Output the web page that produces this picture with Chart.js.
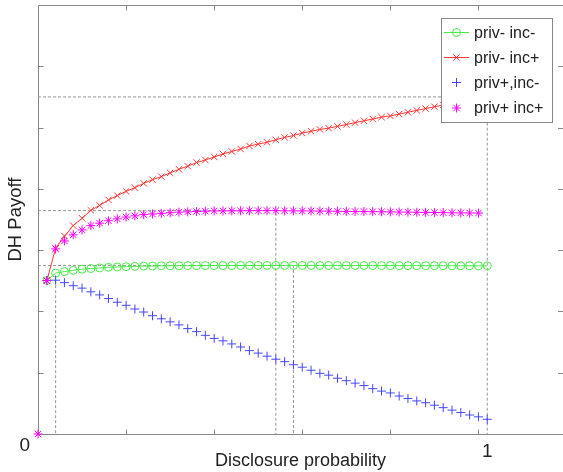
<!DOCTYPE html>
<html>
<head>
<meta charset="utf-8">
<script src="https://cdn.jsdelivr.net/npm/chart.js@4/dist/chart.umd.min.js"></script>
<style>
html,body{margin:0;padding:0;background:#fff;}
#wrap{position:relative;width:563px;height:472px;}
</style>
</head>
<body>
<div id="wrap"><canvas id="c" width="563" height="472"></canvas></div>
<script>
// ---- data ----
const disclosure = [1,2,3,4,5,6,7,8,9,10,11,12,13,14,15,16,17,18,19,20,21,22,23,24,25,26,27,28,29,30,31,32,33,34,35,36,37,38,39,40,41,42,43,44,45,46,47,48,49,50,51];
const privMinusIncMinus = [2.505,2.625,2.65,2.67,2.69,2.70,2.71,2.72,2.725,2.73,2.735,2.74,2.74,2.745,2.745,2.745,2.747,2.747,2.748,2.748,2.749,2.749,2.75,2.75,2.75,2.75,2.75,2.75,2.751,2.75,2.75,2.75,2.75,2.75,2.749,2.749,2.749,2.748,2.748,2.748,2.747,2.747,2.747,2.746,2.746,2.746,2.745,2.745,2.745,2.744,2.744];
const privMinusIncPlus = [2.50,3.03,3.23,3.40,3.52,3.65,3.73,3.82,3.89,3.96,4.02,4.09,4.15,4.20,4.26,4.32,4.37,4.43,4.47,4.52,4.57,4.61,4.65,4.70,4.73,4.76,4.80,4.84,4.87,4.91,4.94,4.97,4.99,5.02,5.05,5.08,5.11,5.14,5.17,5.19,5.22,5.25,5.28,5.31,5.34,5.37,5.39,5.42,5.45,5.47,5.50];
const privPlusIncMinus = [2.505,2.51,2.47,2.42,2.38,2.32,2.27,2.21,2.15,2.10,2.04,1.99,1.93,1.88,1.83,1.78,1.72,1.67,1.61,1.56,1.52,1.47,1.42,1.36,1.32,1.27,1.22,1.18,1.13,1.09,1.04,0.99,0.96,0.91,0.87,0.83,0.79,0.74,0.70,0.67,0.62,0.58,0.54,0.51,0.47,0.43,0.39,0.35,0.31,0.28,0.24];
const privPlusIncPlusX = [0,1,2,3,4,5,6,7,8,9,10,11,12,13,14,15,16,17,18,19,20,21,22,23,24,25,26,27,28,29,30,31,32,33,34,35,36,37,38,39,40,41,42,43,44,45,46,47,48,49,50,51];
const privPlusIncPlus = [0,2.505,3.02,3.15,3.25,3.33,3.40,3.44,3.48,3.51,3.54,3.56,3.58,3.59,3.60,3.61,3.62,3.625,3.63,3.635,3.64,3.64,3.642,3.643,3.644,3.645,3.645,3.645,3.642,3.64,3.64,3.64,3.638,3.636,3.634,3.632,3.63,3.63,3.628,3.626,3.624,3.622,3.62,3.618,3.616,3.614,3.612,3.61,3.608,3.606,3.605];
// reference (maximum) guide lines, data units
const guideRed = [[0,5.50],[51,5.50],[51,0]];
const guideMagenta = [[0,3.645],[27,3.645],[27,0]];
const guideGreen = [[0,2.75],[29,2.75],[29,0]];
const guideBlue = [[2,2.51],[2,0]];
// axis ticks and labels
const xMarkTicks = [10,20,30,40,50];
const yMarkTicks = [1,2,3,4,5,6];
const xLabelTicks = [51];
const xLabelTexts = ['1'];
const yLabelTicks = [0];
const yLabelTexts = ['0'];
const seriesNames = ['priv- inc-','priv- inc+','priv+,inc-','priv+ inc+'];

// ---- styling ----
const GREEN = 'rgb(70,235,70)';
const RED = 'rgb(255,55,55)';
const BLUE = 'rgb(70,70,255)';
const MAGENTA = 'rgb(255,0,255)';
const GUIDE = 'rgb(150,150,150)';
const AXIS = 'rgb(135,135,135)';
const TEXT = '#222';
const FONT = "'Liberation Sans', Arial, sans-serif";

const pts = (xs, ys) => xs.map((x, i) => ({x, y: ys[i]}));
const gpts = arr => arr.map(p => ({x: p[0], y: p[1]}));

const guideDs = (arr) => ({
  data: gpts(arr), showLine: true, borderColor: GUIDE, borderWidth: 1,
  borderDash: [3, 2], pointRadius: 0, fill: false, order: 10, tension: 0
});

const legendStyles = [
  {color: GREEN, style: 'circle', line: true, r: 4},
  {color: RED, style: 'crossRot', line: true, r: 4.5},
  {color: BLUE, style: 'cross', line: false, r: 4.5},
  {color: MAGENTA, style: 'star', line: false, r: 4.5}
];

function marker(ctx, style, r, cx, cy) {
  ctx.beginPath();
  if (style === 'circle') {
    ctx.arc(cx, cy, r, 0, Math.PI * 2);
  } else {
    const d = r * Math.SQRT1_2;
    if (style === 'cross' || style === 'star') {
      ctx.moveTo(cx - r, cy); ctx.lineTo(cx + r, cy);
      ctx.moveTo(cx, cy - r); ctx.lineTo(cx, cy + r);
    }
    if (style === 'crossRot' || style === 'star') {
      ctx.moveTo(cx - d, cy - d); ctx.lineTo(cx + d, cy + d);
      ctx.moveTo(cx - d, cy + d); ctx.lineTo(cx + d, cy - d);
    }
  }
  ctx.stroke();
}

const framePlugin = {
  id: 'frame',
  beforeDatasetsDraw(chart) {
    const {ctx, chartArea: a, scales: {x, y}} = chart;
    ctx.save();
    ctx.strokeStyle = AXIS;
    ctx.lineWidth = 1;
    const L = Math.round(a.left) + 0.5, B = Math.round(a.bottom) + 0.5, T = Math.round(a.top) + 0.5, R = a.right;
    ctx.beginPath();
    ctx.moveTo(R, T); ctx.lineTo(L, T); ctx.lineTo(L, B); ctx.lineTo(R, B);
    xMarkTicks.forEach(v => {
      const px = Math.round(x.getPixelForValue(v)) + 0.5;
      ctx.moveTo(px, B); ctx.lineTo(px, B - 5);
      ctx.moveTo(px, T); ctx.lineTo(px, T + 5);
    });
    yMarkTicks.forEach(v => {
      const py = Math.round(y.getPixelForValue(v)) + 0.5;
      ctx.moveTo(L, py); ctx.lineTo(L + 5, py);
      ctx.moveTo(R, py); ctx.lineTo(R - 5, py);
    });
    ctx.stroke();
    ctx.restore();
  }
};

const legendPlugin = {
  id: 'boxLegend',
  afterDraw(chart) {
    const ctx = chart.ctx;
    const bx = 441.5, by = 18.5, bw = 111, bh = 104;
    ctx.save();
    ctx.setLineDash([]);
    ctx.fillStyle = '#fff';
    ctx.fillRect(bx, by, bw, bh);
    ctx.strokeStyle = AXIS;
    ctx.lineWidth = 1;
    ctx.strokeRect(bx, by, bw, bh);
    const rows = [32.5, 57.5, 82.5, 108];
    ctx.font = '16px ' + FONT;
    ctx.textBaseline = 'middle';
    ctx.textAlign = 'left';
    seriesNames.forEach((name, i) => {
      const s = legendStyles[i];
      const yy = rows[i];
      ctx.strokeStyle = s.color;
      ctx.lineWidth = 1;
      if (s.line) {
        ctx.beginPath(); ctx.moveTo(444, yy); ctx.lineTo(469, yy); ctx.stroke();
      }
      marker(ctx, s.style, s.r, 456.5, yy);
      ctx.fillStyle = TEXT;
      ctx.fillText(name, 474, yy + 1);
    });
    ctx.restore();
  }
};

const zeroPad = s => { s.paddingTop = 0; s.paddingBottom = 0; s.paddingLeft = 0; s.paddingRight = 0; };

new Chart(document.getElementById('c'), {
  type: 'scatter',
  data: {
    datasets: [
      guideDs(guideRed), guideDs(guideMagenta), guideDs(guideGreen), guideDs(guideBlue),
      {label: seriesNames[0], data: pts(disclosure, privMinusIncMinus), showLine: true, borderColor: GREEN, borderWidth: 1,
       pointStyle: 'circle', pointRadius: 4, pointBorderColor: GREEN, pointBackgroundColor: 'rgba(0,0,0,0)', pointBorderWidth: 1, order: 4},
      {label: seriesNames[1], data: pts(disclosure, privMinusIncPlus), showLine: true, borderColor: RED, borderWidth: 1,
       pointStyle: 'crossRot', pointRadius: 4.5, pointBorderColor: RED, pointBorderWidth: 1, order: 3},
      {label: seriesNames[2], data: pts(disclosure, privPlusIncMinus), showLine: false,
       pointStyle: 'cross', pointRadius: 4.5, pointBorderColor: BLUE, pointBorderWidth: 1, order: 2},
      {label: seriesNames[3], data: pts(privPlusIncPlusX, privPlusIncPlus), showLine: false,
       pointStyle: 'star', pointRadius: 4.5, pointBorderColor: MAGENTA, pointBorderWidth: 1, order: 1}
    ]
  },
  options: {
    responsive: false,
    animation: false,
    clip: false,
    layout: {autoPadding: false, padding: {top: 5, right: 0, left: 0, bottom: 0}},
    plugins: {legend: {display: false}, tooltip: {enabled: false}},
    scales: {
      x: {
        type: 'linear', min: 0, max: 59.6,
        afterBuildTicks: s => { s.ticks = xLabelTicks.map(v => ({value: v})); },
        afterFit: s => { s.height = 38; zeroPad(s); },
        grid: {display: false, drawTicks: false},
        border: {display: false},
        ticks: {
          autoSkip: false, maxRotation: 0, padding: 6, color: TEXT,
          font: {family: FONT, size: 19},
          callback: v => { const i = xLabelTicks.indexOf(v); return i >= 0 ? xLabelTexts[i] : ''; }
        },
        title: {display: true, text: 'Disclosure probability', color: TEXT, font: {family: FONT, size: 18}, padding: {top: 0, bottom: 0}}
      },
      y: {
        type: 'linear', min: 0, max: 7,
        afterBuildTicks: s => { s.ticks = yLabelTicks.map(v => ({value: v})); },
        afterFit: s => { s.width = 38; zeroPad(s); },
        grid: {display: false, drawTicks: false},
        border: {display: false},
        ticks: {
          autoSkip: false, padding: 8, labelOffset: 12, color: TEXT,
          font: {family: FONT, size: 19},
          callback: v => { const i = yLabelTicks.indexOf(v); return i >= 0 ? yLabelTexts[i] : ''; }
        },
        title: {display: true, text: 'DH Payoff', color: TEXT, font: {family: FONT, size: 18.5}, padding: {top: 5, bottom: 0}}
      }
    }
  },
  plugins: [framePlugin, legendPlugin]
});
</script>
</body>
</html>
